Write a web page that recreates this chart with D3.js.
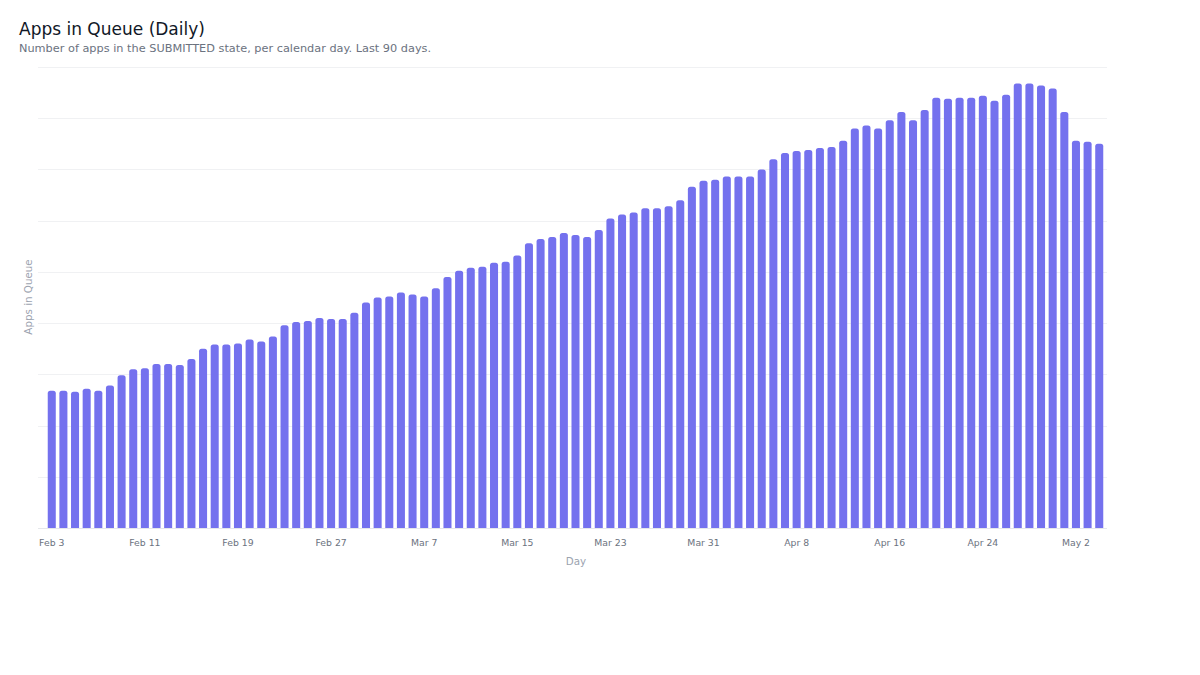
<!DOCTYPE html>
<html>
<head>
<meta charset="utf-8">
<script src="https://cdn.jsdelivr.net/npm/d3@7"></script>
<style>
  body { margin: 0; background: #fff; font-family: "DejaVu Sans", sans-serif; }
  #chart { width: 1200px; height: 675px; }
</style>
</head>
<body>
<div id="chart"></div>
<script>
// daily queue counts, Feb 3 -> May 4 (2025)
const startDay = "2025-02-03";
const queueCounts = [
  134, 134, 133, 136, 134, 139, 149, 155, 156, 160,
  160, 159, 165, 175, 179, 179, 180, 184, 182, 187,
  198, 201, 202, 205, 204, 204, 210, 220, 225, 226,
  230, 228, 226, 234, 245, 251, 254, 255, 259, 260,
  266, 278, 282, 284, 288, 286, 284, 291, 302, 306,
  308, 312, 312, 314, 320, 333, 339, 340, 343, 343,
  343, 350, 360, 366, 368, 369, 371, 372, 378, 390,
  393, 390, 398, 406, 398, 408, 420, 419, 420, 420,
  422, 417, 423, 434, 434, 432, 429, 406, 378, 377,
  375
];
const yTicks = [0, 50, 100, 150, 200, 250, 300, 350, 400, 450];
const tickEvery = 8;

const parse = d3.timeParse("%Y-%m-%d");
const fmt = d3.timeFormat("%b %-d");
const days = queueCounts.map((v, i) => ({ date: d3.timeDay.offset(parse(startDay), i), value: v }));

const width = 1200, height = 675;
const svg = d3.select("#chart").append("svg")
  .attr("width", width).attr("height", height);

// titles
svg.append("text").attr("x", 19).attr("y", 35)
  .attr("font-size", 17).attr("fill", "#111827").text("Apps in Queue (Daily)");
svg.append("text").attr("x", 19).attr("y", 52)
  .attr("font-size", 11.3).attr("fill", "#6b7280")
  .text("Number of apps in the SUBMITTED state, per calendar day. Last 90 days.");

const x = d3.scaleBand()
  .domain(days.map(d => +d.date))
  .range([46, 1105])
  .paddingInner(0.31)
  .paddingOuter(0.15);

const y = d3.scaleLinear().domain([0, 450]).range([528, 67]);

// grid
svg.append("g").selectAll("line")
  .data(yTicks)
  .join("line")
  .attr("x1", 38).attr("x2", 1107)
  .attr("y1", d => Math.round(y(d)) + 0.5).attr("y2", d => Math.round(y(d)) + 0.5)
  .attr("stroke", d => d === 0 ? "#e5e7eb" : "#f0f1f3")
  .attr("stroke-width", 1);

// bars with rounded top corners
const r = 2.5;
svg.append("g").selectAll("path")
  .data(days)
  .join("path")
  .attr("fill", "#7471ee")
  .attr("d", d => {
    const x0 = x(+d.date), w = x.bandwidth();
    const y0 = y(d.value), y1 = y(0);
    return `M${x0},${y1}V${y0 + r}Q${x0},${y0} ${x0 + r},${y0}H${x0 + w - r}Q${x0 + w},${y0} ${x0 + w},${y0 + r}V${y1}Z`;
  });

// x axis
const xAxis = d3.axisBottom(x)
  .tickValues(days.filter((d, i) => i % tickEvery === 0).map(d => +d.date))
  .tickFormat(d => fmt(new Date(d)))
  .tickSize(0)
  .tickPadding(11);

const gx = svg.append("g")
  .attr("transform", "translate(0,528)")
  .call(xAxis);
gx.select(".domain").remove();
gx.selectAll("text")
  .attr("font-family", "DejaVu Sans, sans-serif")
  .attr("font-size", 9.3)
  .attr("fill", "#6b7280");

// axis titles
svg.append("text").attr("x", 576).attr("y", 565)
  .attr("text-anchor", "middle").attr("font-size", 10.3)
  .attr("fill", "#9ca3af").text("Day");
svg.append("text")
  .attr("transform", "translate(32,297) rotate(-90)")
  .attr("text-anchor", "middle").attr("font-size", 10.3)
  .attr("fill", "#9ca3af").text("Apps in Queue");
</script>
</body>
</html>
